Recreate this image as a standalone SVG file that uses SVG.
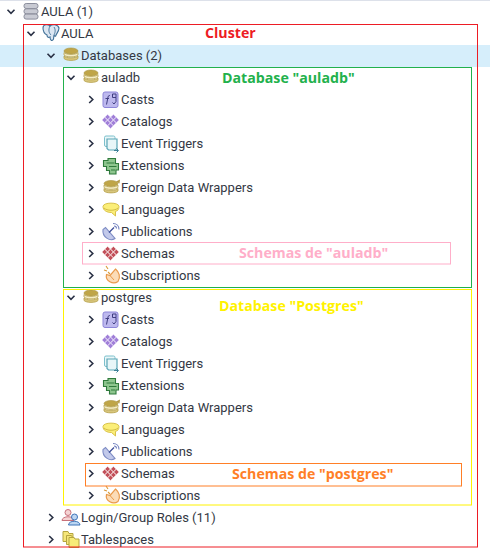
<svg xmlns="http://www.w3.org/2000/svg" width="490" height="551" viewBox="0 0 490 551">
<style>
.t{font-family:"Roboto","Liberation Sans",sans-serif;font-size:13px;fill:#333844}
.a{font-family:"Open Sans","Liberation Sans",sans-serif;font-size:14.2px;font-weight:700}
.c{fill:none;stroke:#2a3145;stroke-width:1.6}
.b{fill:none;stroke-width:1}
</style>
<defs>
<path id="open" class="c" d="M-3.500-1.800 0 1.800 3.500-1.800"/>
<path id="closed" class="c" d="M-1.800-3.500 1.800 0-1.800 3.500"/>
<path id="d" d="M0-2.700 2.700 0 0 2.700-2.700 0Z"/>
<g id="heart"><use href="#d" x="-2.900" y="-2.900"/><use href="#d" x="2.900" y="-2.900"/><use href="#d" x="-5.800" y="0"/><use href="#d" x="0" y="0"/><use href="#d" x="5.800" y="0"/><use href="#d" x="-2.900" y="2.900"/><use href="#d" x="2.900" y="2.900"/><use href="#d" x="0" y="5.800"/></g>
<g id="db"><ellipse cx="0" cy="-4.500" rx="7" ry="3" fill="#bfa548" stroke="#a8923e" stroke-width=".6"/>
<path d="M-7-3V-.5C-5 2 5 2 7-.5V-3C5-.5-5-.5-7-3Z" fill="#f4ecc4" stroke="#b5a04a" stroke-width=".8"/>
<path d="M-7 .5V3C-5 5.500 5 5.500 7 3V.5C5 3-5 3-7 .5Z" fill="#d8c67c" stroke="#b5a04a" stroke-width=".8"/></g>
<g id="casts"><rect x="-7.500" y="-7.500" width="15" height="15.500" rx="2" fill="#bdb8ee" stroke="#8d85d8" stroke-width="1"/><path d="M-4 5-2.500-2.500C-2.300-4-1-4-.5-4M-5-1H-1.500M2-5.500H5.500V-2H2ZM5.500-2V2L3.500 4.500 2 3" fill="none" stroke="#3f3d80" stroke-width="1"/></g>
<g id="catalogs"><use href="#heart" fill="#a07fd8" stroke="#e6dcf6" stroke-width=".6"/></g>
<g id="trig"><rect x="-6.500" y="-7.500" width="10.500" height="10.500" rx="1.500" fill="#eaf6f8" stroke="#7cc0cc" stroke-width="1"/><path d="M-4-4.500H6V5L4.500 6.500H-2.500L-4 5Z" fill="#e8f6f8" stroke="#5aa6b6" stroke-width="1.200"/><path d="M3 7H7M5.500 5 7.500 7 5.500 9" fill="none" stroke="#3d7f96" stroke-width="1"/></g>
<g id="ext"><path d="M-7.500-5V1H-4.500V5H-1.500V8.500H5V4.500H7.500V-2H4.500V-7H-3V-5Z" fill="#8ec68e" stroke="#2f7a3c" stroke-width="1.100"/><path d="M-4.500-2.500H3.500M-2 1H5.500M0 4.500H4" stroke="#2f7a3c" stroke-width="1"/></g>
<g id="fdw"><use href="#db"/><path d="M5-6.500 9-8.500 8.500-4.500" fill="#b59a48"/></g>
<g id="lang"><path d="M-8-3.500C-8-8 8-8 8-3.500 8-.5 6.500 1 4.500 1.300V6L.5 2.500C-4 2.500-8 .5-8-3.500Z" fill="#fbee78" stroke="#d9c24a" stroke-width="1"/><path d="M-7-2C-4 1 4 1 7-2" fill="none" stroke="#cdb540" stroke-width=".9"/></g>
<g id="pub"><path d="M-8-3.500C-9 4-1 9 4 5.500L-5.500-5.500Z" fill="#c2c9ea" stroke="#7e8cc4" stroke-width="1.100"/><path d="M-2-.5 3-5.500" stroke="#3c4c96" stroke-width="1.200"/><path d="M2-9.500C5.500-9.500 8-7 8-3.500M3-7C4.500-7 5.500-6 5.500-4.500" fill="none" stroke="#6f7fbe" stroke-width="1.100"/></g>
<g id="sch"><use href="#heart" fill="#c2505a" stroke="#f6e2e2" stroke-width=".6"/></g>
<g id="sub"><path d="M-4.500-.5C-6 6 2 10 7 6.500 10 2 8-3 4.500-6L-1 .5Z" fill="#fbdcb8" stroke="#e99a4c" stroke-width="1.200"/><path d="M-1 .5 3 5" stroke="#e99a4c" stroke-width="1"/><path d="M-1-1-3-3M-5-9-3-6M-7-5-4-4" stroke="#d99a3a" stroke-width="1.100"/></g>
<g id="srv"><g fill="#c8cad3" stroke="#8b8e9c" stroke-width="1"><rect x="-7" y="-8" width="14" height="5" rx="2.200"/><rect x="-7" y="-2.700" width="14" height="5" rx="2.200"/><rect x="-7" y="2.600" width="14" height="5" rx="2.200"/></g></g>
<g id="pg"><path d="M-8-5C-8-9-3-9-1-7 1-9 7-9 8-5 8-2 6 0 5 2 5 4 3 3 3 2L2.500 6C1 9-1 7-1 4-3 5-4 4-4 2-6 1-8-2-8-5Z" fill="#dbe6f2" stroke="#3f6f96" stroke-width="1.100"/><path d="M-1-7C-3-3-2 0 0 2M3-6C5-3 4 0 3 2" fill="none" stroke="#3f6f96" stroke-width=".9"/></g>
<g id="roles"><circle cx="-3" cy="-5" r="3" fill="#f5d3d3" stroke="#c8707a"/><path d="M-9 3C-9-2 3-2 3 3Z" fill="#f5d3d3" stroke="#c8707a"/><circle cx="3.500" cy="-.5" r="3" fill="#bcd6f2" stroke="#3f74b8"/><path d="M-2.500 7.500C-2.500 2.500 9 2.500 9 7.500Z" fill="#bcd6f2" stroke="#3f74b8"/></g>
<g id="tbs"><path d="M-8-8H-3L-2-6H2V2H-8Z" fill="#f5e67a" stroke="#b5a540"/><path d="M-4.500-4H.5L1.500-2H3V5H-4.500Z" fill="#f5e67a" stroke="#b5a540"/><path d="M-2-2H3L4-.5H8V8H-2Z" fill="#f7ec78" stroke="#b5a540"/></g>
</defs>
<rect width="490" height="551" fill="#fff"/>
<rect width="490" height="1" fill="#dde1ea"/>
<rect id="selected-row" y="45" width="490" height="22" fill="#d6eefb"/>

<g id="server-group"><use href="#open" x="11" y="11.500"/><use href="#srv" x="31" y="11.500"/><text class="t" x="41" y="16">AULA (1)</text></g>
<g id="cluster-node"><use href="#open" x="31" y="33.500"/><use href="#pg" x="51" y="33"/><text class="t" x="61" y="38">AULA</text></g>
<g id="databases-node"><use href="#open" x="51" y="55.500"/><use href="#db" x="71" y="55.500"/><text class="t" x="81" y="60">Databases (2)</text></g>

<g id="auladb-node"><use href="#open" x="71" y="77.500"/><use href="#db" x="91" y="77.500"/><text class="t" x="101" y="82">auladb</text></g>
<g id="auladb-casts"><use href="#closed" x="91" y="99.500"/><use href="#casts" x="110.500" y="99.500"/><text class="t" x="121" y="104">Casts</text></g>
<g id="auladb-catalogs"><use href="#closed" x="91" y="121.500"/><use href="#catalogs" x="110.500" y="120"/><text class="t" x="121" y="126">Catalogs</text></g>
<g id="auladb-triggers"><use href="#closed" x="91" y="143.500"/><use href="#trig" x="111" y="143.500"/><text class="t" x="121" y="148">Event Triggers</text></g>
<g id="auladb-extensions"><use href="#closed" x="91" y="165.500"/><use href="#ext" x="111" y="165.500"/><text class="t" x="121" y="170">Extensions</text></g>
<g id="auladb-fdw"><use href="#closed" x="91" y="187.500"/><use href="#fdw" x="111" y="188"/><text class="t" x="121" y="192">Foreign Data Wrappers</text></g>
<g id="auladb-languages"><use href="#closed" x="91" y="209.500"/><use href="#lang" x="111" y="210"/><text class="t" x="121" y="214">Languages</text></g>
<g id="auladb-publications"><use href="#closed" x="91" y="231.500"/><use href="#pub" x="111" y="233"/><text class="t" x="121" y="236">Publications</text></g>
<g id="auladb-schemas"><use href="#closed" x="91" y="253.500"/><use href="#sch" x="110.500" y="252"/><text class="t" x="121" y="258">Schemas</text></g>
<g id="auladb-subscriptions"><use href="#closed" x="91" y="275.500"/><use href="#sub" x="111" y="275"/><text class="t" x="121" y="280">Subscriptions</text></g>

<g id="postgres-node"><use href="#open" x="71" y="297.500"/><use href="#db" x="91" y="297.500"/><text class="t" x="101" y="302">postgres</text></g>
<g id="postgres-casts"><use href="#closed" x="91" y="319.500"/><use href="#casts" x="110.500" y="319.500"/><text class="t" x="121" y="324">Casts</text></g>
<g id="postgres-catalogs"><use href="#closed" x="91" y="341.500"/><use href="#catalogs" x="110.500" y="340"/><text class="t" x="121" y="346">Catalogs</text></g>
<g id="postgres-triggers"><use href="#closed" x="91" y="363.500"/><use href="#trig" x="111" y="363.500"/><text class="t" x="121" y="368">Event Triggers</text></g>
<g id="postgres-extensions"><use href="#closed" x="91" y="385.500"/><use href="#ext" x="111" y="385.500"/><text class="t" x="121" y="390">Extensions</text></g>
<g id="postgres-fdw"><use href="#closed" x="91" y="407.500"/><use href="#fdw" x="111" y="408"/><text class="t" x="121" y="412">Foreign Data Wrappers</text></g>
<g id="postgres-languages"><use href="#closed" x="91" y="429.500"/><use href="#lang" x="111" y="430"/><text class="t" x="121" y="434">Languages</text></g>
<g id="postgres-publications"><use href="#closed" x="91" y="451.500"/><use href="#pub" x="111" y="453"/><text class="t" x="121" y="456">Publications</text></g>
<g id="postgres-schemas"><use href="#closed" x="91" y="473.500"/><use href="#sch" x="110.500" y="472"/><text class="t" x="121" y="478">Schemas</text></g>
<g id="postgres-subscriptions"><use href="#closed" x="91" y="495.500"/><use href="#sub" x="111" y="495"/><text class="t" x="121" y="500">Subscriptions</text></g>

<g id="roles-node"><use href="#closed" x="51" y="517.500"/><use href="#roles" x="71" y="517.500"/><text class="t" x="81" y="522">Login/Group Roles (11)</text></g>
<g id="tablespaces-node"><use href="#closed" x="51" y="539.500"/><use href="#tbs" x="71" y="539.500"/><text class="t" x="81" y="544">Tablespaces</text></g>

<g id="annotations">
<g id="cluster-box"><rect class="b" x="23.500" y="24.500" width="454" height="522.500" stroke="#ed1c24"/><text class="a" x="205" y="38" fill="#ed1c24">Cluster</text></g>
<g id="auladb-box"><rect class="b" x="63.500" y="67.500" width="408" height="220" stroke="#22b14c"/><text class="a" x="222" y="83" fill="#22b14c">Database "auladb"</text></g>
<g id="postgres-box"><rect class="b" x="63.500" y="289.500" width="408" height="215.500" stroke="#fff200"/><text class="a" x="219" y="311" fill="#fff200">Database "Postgres"</text></g>
<g id="auladb-schemas-box"><rect class="b" x="82.500" y="242.500" width="368" height="21.500" stroke="#ffaec9"/><text class="a" x="239" y="258" fill="#ffaec9">Schemas de "auladb"</text></g>
<g id="postgres-schemas-box"><rect class="b" x="85.500" y="463.500" width="376" height="22.500" stroke="#ff7f27"/><text class="a" x="232" y="479" fill="#ff7f27">Schemas de "postgres"</text></g>
</g>
</svg>
